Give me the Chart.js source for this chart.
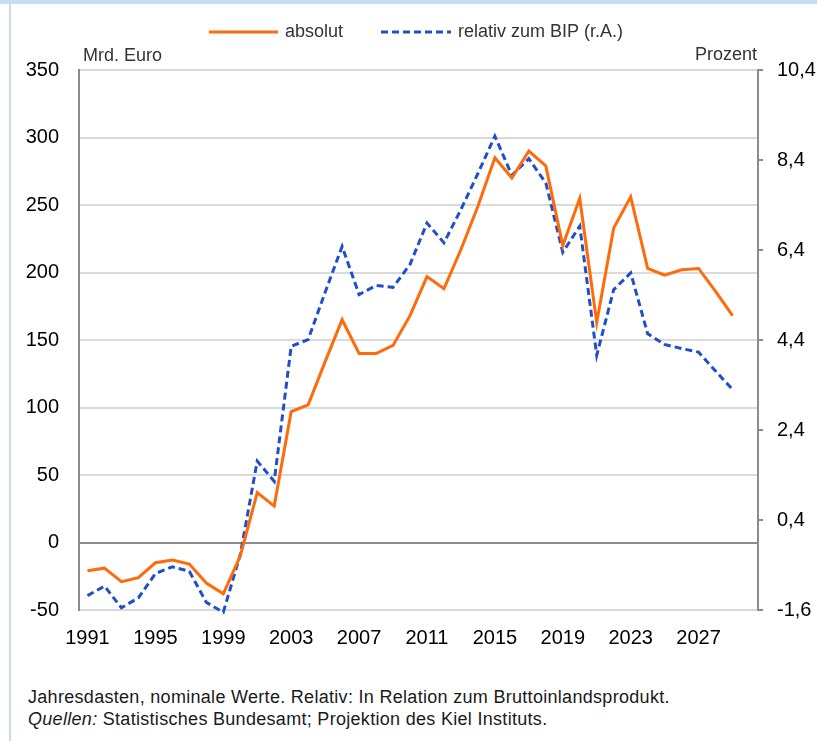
<!DOCTYPE html>
<html>
<head>
<meta charset="utf-8">
<script src="https://cdn.jsdelivr.net/npm/chart.js@4/dist/chart.umd.min.js"></script>
<style>
  body { margin: 0; background: #fff; width: 817px; height: 741px; overflow: hidden; position: relative; font-family: "Liberation Sans", Arial, sans-serif; }
  .bandTop { position: absolute; left: 0; top: 0; width: 817px; height: 4px; background: #c9ddf1; }
  .bandLeft { position: absolute; left: 9px; top: 0; width: 2px; height: 741px; background: #c9ddf1; }
  #c { position: absolute; left: 0; top: 0; }
  .note { position: absolute; left: 28px; top: 686px; font-size: 18px; letter-spacing: 0.3px; line-height: 22px; color: #1a1a1a; }
</style>
</head>
<body>
<div class="bandTop"></div>
<div class="bandLeft"></div>
<canvas id="c" width="817" height="670"></canvas>
<div class="note">
  Jahresdasten, nominale Werte. Relativ: In Relation zum Bruttoinlandsprodukt.<br>
  <i>Quellen:</i> Statistisches Bundesamt; Projektion des Kiel Instituts.
</div>
<script>
let years = [
  "1991", "1992", "1993", "1994", "1995", "1996", "1997", "1998", "1999", "2000",
  "2001", "2002", "2003", "2004", "2005", "2006", "2007", "2008", "2009", "2010",
  "2011", "2012", "2013", "2014", "2015", "2016", "2017", "2018", "2019", "2020",
  "2021", "2022", "2023", "2024", "2025", "2026", "2027", "2028", "2029", "2030",
];

// Mrd. Euro
let absolut = [
  -21, -19, -29, -26, -15, -13, -16, -30, -38, -10,
  37, 27, 97, 102, 134, 165, 140, 140, 146, 168,
  197, 188, 217, 249, 285, 270, 290, 279, 220, 255,
  163, 233, 256, 203, 198, 202, 203, 186, 168,
];

// Prozent des BIP (r.A.)
let relativ = [
  -1.28, -1.07, -1.55, -1.33, -0.79, -0.64, -0.74, -1.43, -1.65, -0.37,
  1.71, 1.26, 4.26, 4.41, 5.46, 6.48, 5.41, 5.61, 5.57, 6.08,
  7.0, 6.56, 7.3, 8.1, 8.93, 8.06, 8.43, 7.89, 6.35, 6.93,
  4.06, 5.52, 5.89, 4.54, 4.3, 4.21, 4.13, 3.71, 3.3,
];

let leftTicks = [-50, 0, 50, 100, 150, 200, 250, 300, 350];
let rightTicks = [-1.6, 0.4, 2.4, 4.4, 6.4, 8.4, 10.4];

const fontName = "'Liberation Sans', Arial, sans-serif";

// legend + axis units drawn on top
const overlayText = {
  id: "overlayText",
  afterDraw(chart) {
    const ctx = chart.ctx;
    const ds = chart.data.datasets;
    ctx.save();
    ctx.font = "18px " + fontName;
    ctx.fillStyle = "#333";
    ctx.textBaseline = "middle";

    ctx.lineWidth = 3;
    ctx.strokeStyle = ds[0].borderColor;
    ctx.beginPath();
    ctx.moveTo(209, 32);
    ctx.lineTo(278, 32);
    ctx.stroke();
    ctx.fillText(ds[0].label, 285, 32);

    ctx.strokeStyle = ds[1].borderColor;
    ctx.setLineDash(ds[1].borderDash);
    ctx.beginPath();
    ctx.moveTo(381, 32);
    ctx.lineTo(451, 32);
    ctx.stroke();
    ctx.setLineDash([]);
    ctx.fillText(ds[1].label, 458, 32);

    ctx.fillText("Mrd. Euro", 83, 56);
    ctx.textAlign = "right";
    ctx.fillText("Prozent", 757, 55);
    ctx.restore();
  },
};

let chart = new Chart("c", {
  type: "line",
  data: {
    labels: years,
    datasets: [
      {
        label: "absolut",
        data: absolut,
        yAxisID: "y",
        borderColor: "#ff6a0a",
        backgroundColor: "#ff6a0a",
        borderWidth: 3,
        pointRadius: 0,
        tension: 0,
        clip: false,
      },
      {
        label: "relativ zum BIP (r.A.)",
        data: relativ,
        yAxisID: "y2",
        borderColor: "#2050c8",
        backgroundColor: "#2050c8",
        borderWidth: 3,
        borderDash: [7, 4],
        pointRadius: 0,
        tension: 0,
        clip: false,
      },
    ],
  },
  options: {
    responsive: false,
    animation: false,
    layout: { padding: { top: 70, left: 0, right: 0, bottom: 0 } },
    plugins: {
      legend: { display: false },
      tooltip: { enabled: false },
    },
    scales: {
      x: {
        type: "category",
        offset: true,
        grid: { display: false },
        border: { display: false },
        ticks: {
          autoSkip: false,
          maxRotation: 0,
          padding: 8,
          color: "#000",
          font: { family: fontName, size: 20 },
          callback: function (val, idx) {
            return idx % 4 === 0 ? years[idx] : "";
          },
        },
        afterFit: function (scale) {
          scale.height = 60;
        },
      },
      y: {
        position: "left",
        min: -50,
        max: 350,
        grid: {
          drawTicks: false,
          lineWidth: 2,
          color: function (c) {
            return c.tick && c.tick.value === 0 ? "#8c8c8c" : "#dadada";
          },
        },
        border: { color: "#8c8c8c", width: 2 },
        ticks: {
          padding: 20,
          color: "#000",
          font: { family: fontName, size: 20 },
        },
        afterBuildTicks: function (scale) {
          scale.ticks = leftTicks.map((v) => ({ value: v }));
        },
        afterFit: function (scale) {
          scale.width = 79;
        },
      },
      y2: {
        position: "right",
        min: -1.6,
        max: 10.4,
        grid: {
          drawOnChartArea: false,
          tickLength: 5,
          lineWidth: 2,
          color: "#8c8c8c",
        },
        border: { color: "#8c8c8c", width: 2 },
        ticks: {
          padding: 14,
          color: "#000",
          font: { family: fontName, size: 20 },
          callback: function (val) {
            return val.toFixed(1).replace(".", ",");
          },
        },
        afterBuildTicks: function (scale) {
          scale.ticks = rightTicks.map((v) => ({ value: v }));
        },
        afterFit: function (scale) {
          scale.width = 59;
        },
      },
    },
  },
  plugins: [overlayText],
});
</script>
</body>
</html>
